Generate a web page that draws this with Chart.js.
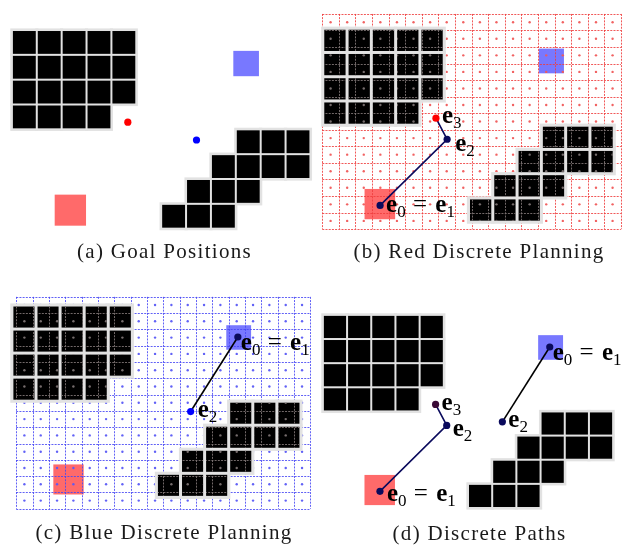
<!DOCTYPE html>
<html>
<head>
<meta charset="utf-8">
<script src="https://cdn.jsdelivr.net/npm/chart.js@4.4.1/dist/chart.umd.min.js"></script>
<style>
  html, body { margin: 0; padding: 0; background: #fff; }
  canvas { display: block; }
</style>
</head>
<body>
<canvas id="fig" width="627" height="546"></canvas>
<script>
// world units: one obstacle block = 1, y grows downwards
const obstacleCells = [
  [0,0],[1,0],[2,0],[3,0],[4,0],
  [0,1],[1,1],[2,1],[3,1],[4,1],
  [0,2],[1,2],[2,2],[3,2],[4,2],
  [0,3],[1,3],[2,3],[3,3],
  [9,4],[10,4],[11,4],
  [8,5],[9,5],[10,5],[11,5],
  [7,6],[8,6],[9,6],
  [6,7],[7,7],[8,7]
];
const redGoal = [1.72, 6.63, 2.98, 7.88];   // x0, y0, x1, y1
const blueGoal = [8.9, 0.84, 9.93, 1.86];
const redPath = [[2.36, 7.31], [5.12, 4.58], [4.66, 3.71]];
const bluePath = [[9.38, 1.33], [7.42, 4.43]];
// subscripts of the waypoint labels: two entries -> "e_i = e_j"
const redPathLabels = [['0', '1'], ['2'], ['3']];
const bluePathLabels = [['0', '1'], ['2']];
const captions = ['(a) Goal Positions', '(b) Red Discrete Planning', '(c) Blue Discrete Planning', '(d) Discrete Paths'];

// placement of each sub-figure on the canvas (pixel of world origin, pixels per unit)
const panels = [
  { id: 'a', ox: 8.0,   oy: 26.4,  s: 25.2, inset: 1.0, cap: [164.5, 258] },
  { id: 'b', ox: 322.9, oy: 24.6,  s: 24.6, inset: 1.5, cap: [479, 258] },
  { id: 'c', ox: 8.0,   oy: 305.5, s: 24.4, inset: 1.5, cap: [164, 539] },
  { id: 'd', ox: 323.0, oy: 315.5, s: 24.5, inset: 1.0, cap: [479.5, 540] }
];
const grids = {
  b: { x0: -0.02, y0: -0.59, step: 0.683, cols: 18, rows: 13, line: 'rgba(238,60,60,0.85)', dot: 'rgba(240,90,90,0.95)' },
  c: { x0: 0.18,  y0: -0.34, step: 0.678, cols: 18, rows: 13, line: 'rgba(70,70,245,0.85)', dot: 'rgba(90,90,245,0.95)' }
};

const W = 627, H = 546;
const NAVY = '#0a0a5c';

const scales = {};
panels.forEach(p => {
  scales['x' + p.id] = { type: 'linear', display: false, min: -p.ox / p.s, max: (W - p.ox) / p.s };
  scales['y' + p.id] = { type: 'linear', display: false, reverse: true, min: -p.oy / p.s, max: (H - p.oy) / p.s };
});

const pts = arr => arr.map(([x, y]) => ({ x, y }));

function pathSet(panel, path, lineColor, pointColors) {
  return {
    xAxisID: 'x' + panel, yAxisID: 'y' + panel,
    data: pts(path), showLine: true,
    borderColor: lineColor, borderWidth: 1.6,
    pointRadius: 3.6, pointBorderWidth: 0,
    pointBackgroundColor: pointColors
  };
}

const datasets = [
  // goal positions
  { xAxisID: 'xa', yAxisID: 'ya', data: pts([redPath[2]]), pointRadius: 3.6, pointBorderWidth: 0, pointBackgroundColor: '#ff0000' },
  { xAxisID: 'xa', yAxisID: 'ya', data: pts([bluePath[1]]), pointRadius: 3.6, pointBorderWidth: 0, pointBackgroundColor: '#0000ff' },
  pathSet('b', redPath, NAVY, [NAVY, NAVY, '#ff0000']),
  pathSet('c', bluePath, '#000000', [NAVY, '#0000ff']),
  pathSet('d', redPath, NAVY, [NAVY, NAVY, '#3a0a36']),
  pathSet('d', bluePath, '#000000', [NAVY, NAVY])
];

function cellRect(xs, ys, c, r) {
  const x0 = xs.getPixelForValue(c), x1 = xs.getPixelForValue(c + 1);
  const y0 = ys.getPixelForValue(r), y1 = ys.getPixelForValue(r + 1);
  return [x0, y0, x1 - x0, y1 - y0];
}

function fillBox(ctx, xs, ys, box, color) {
  const x0 = xs.getPixelForValue(box[0]), y0 = ys.getPixelForValue(box[1]);
  const x1 = xs.getPixelForValue(box[2]), y1 = ys.getPixelForValue(box[3]);
  ctx.fillStyle = color;
  ctx.fillRect(x0, y0, x1 - x0, y1 - y0);
}

function drawGrid(ctx, xs, ys, g, lineColor, dotColor) {
  const left = xs.getPixelForValue(g.x0), right = xs.getPixelForValue(g.x0 + g.cols * g.step);
  const top = ys.getPixelForValue(g.y0), bottom = ys.getPixelForValue(g.y0 + g.rows * g.step);
  ctx.save();
  ctx.strokeStyle = lineColor;
  ctx.lineWidth = 1;
  ctx.setLineDash([2, 1.2]);
  ctx.beginPath();
  for (let i = 0; i <= g.cols; i++) {
    const x = Math.round(xs.getPixelForValue(g.x0 + i * g.step)) + 0.5;
    ctx.moveTo(x, top); ctx.lineTo(x, bottom);
  }
  for (let j = 0; j <= g.rows; j++) {
    const y = Math.round(ys.getPixelForValue(g.y0 + j * g.step)) + 0.5;
    ctx.moveTo(left, y); ctx.lineTo(right, y);
  }
  ctx.stroke();
  ctx.fillStyle = dotColor;
  for (let i = 0; i < g.cols; i++) {
    for (let j = 0; j < g.rows; j++) {
      const x = xs.getPixelForValue(g.x0 + (i + 0.5) * g.step);
      const y = ys.getPixelForValue(g.y0 + (j + 0.5) * g.step);
      ctx.beginPath();
      ctx.arc(x, y, 1.2, 0, Math.PI * 2);
      ctx.fill();
    }
  }
  ctx.restore();
}

function drawObstacles(ctx, xs, ys, inset) {
  ctx.fillStyle = '#e2e2e2';
  obstacleCells.forEach(([c, r]) => {
    const [x, y, w, h] = cellRect(xs, ys, c, r);
    ctx.fillRect(x - 1.6, y - 1.6, w + 3.2, h + 3.2);
  });
  ctx.fillStyle = '#000';
  obstacleCells.forEach(([c, r]) => {
    const [x, y, w, h] = cellRect(xs, ys, c, r);
    ctx.fillRect(x + inset, y + inset, w - 2 * inset, h - 2 * inset);
  });
}

function drawLabel(ctx, x, y, subs) {
  ctx.save();
  ctx.fillStyle = '#000';
  ctx.textAlign = 'left';
  ctx.textBaseline = 'alphabetic';
  const big = 'bold 25px "Liberation Serif"', small = '17px "Liberation Serif"';
  let cx = x;
  subs.forEach((s, i) => {
    if (i > 0) {
      ctx.font = '25px "Liberation Serif"';
      ctx.fillText(' = ', cx + 1, y);
      cx += ctx.measureText(' = ').width + 3;
    }
    ctx.font = big;
    ctx.fillText('e', cx, y);
    cx += ctx.measureText('e').width;
    ctx.font = small;
    ctx.fillText(s, cx, y + 5);
    cx += ctx.measureText(s).width;
  });
  ctx.restore();
}

// label offsets from each waypoint, in pixels
const redLabelOffsets = { b: [[6, 7], [8, 12], [6, 5]], d: [[7, 10], [6, 11], [6, 6]] };
const blueLabelOffsets = { c: [[3, 13], [7, 5]], d: [[3, 13], [6, 5]] };

const scenePlugin = {
  id: 'scene',
  beforeDatasetsDraw(chart) {
    const ctx = chart.ctx;
    panels.forEach(p => {
      const xs = chart.scales['x' + p.id], ys = chart.scales['y' + p.id];
      const g = grids[p.id];
      fillBox(ctx, xs, ys, redGoal, '#ff6a6a');
      fillBox(ctx, xs, ys, blueGoal, '#7878ff');
      if (g) drawGrid(ctx, xs, ys, g, g.line, g.dot);
      drawObstacles(ctx, xs, ys, p.inset);
      if (g) {
        // grid seen through the blocks
        ctx.save();
        ctx.beginPath();
        obstacleCells.forEach(([c, r]) => {
          const [x, y, w, h] = cellRect(xs, ys, c, r);
          ctx.rect(x + p.inset, y + p.inset, w - 2 * p.inset, h - 2 * p.inset);
        });
        ctx.clip();
        drawGrid(ctx, xs, ys, g, 'rgba(125,115,115,0.9)', 'rgba(130,120,120,0.9)');
        ctx.restore();
      }
    });
  },
  afterDatasetsDraw(chart) {
    const ctx = chart.ctx;
    const put = (panel, path, labels, offs) => {
      const xs = chart.scales['x' + panel], ys = chart.scales['y' + panel];
      path.forEach(([x, y], i) => {
        drawLabel(ctx, xs.getPixelForValue(x) + offs[i][0], ys.getPixelForValue(y) + offs[i][1], labels[i]);
      });
    };
    put('b', redPath, redPathLabels, redLabelOffsets.b);
    put('d', redPath, redPathLabels, redLabelOffsets.d);
    put('c', bluePath, bluePathLabels, blueLabelOffsets.c);
    put('d', bluePath, bluePathLabels, blueLabelOffsets.d);

    ctx.save();
    ctx.fillStyle = '#1a1a1a';
    ctx.font = '21px "Liberation Serif"';
    ctx.letterSpacing = '1.3px';
    ctx.textAlign = 'center';
    ctx.textBaseline = 'alphabetic';
    panels.forEach((p, i) => ctx.fillText(captions[i], p.cap[0], p.cap[1]));
    ctx.restore();
  }
};

new Chart(document.getElementById('fig'), {
  type: 'scatter',
  data: { datasets },
  options: {
    responsive: false,
    animation: false,
    events: [],
    layout: { padding: 0 },
    scales,
    plugins: { legend: { display: false }, tooltip: { enabled: false } }
  },
  plugins: [scenePlugin]
});
</script>
</body>
</html>
